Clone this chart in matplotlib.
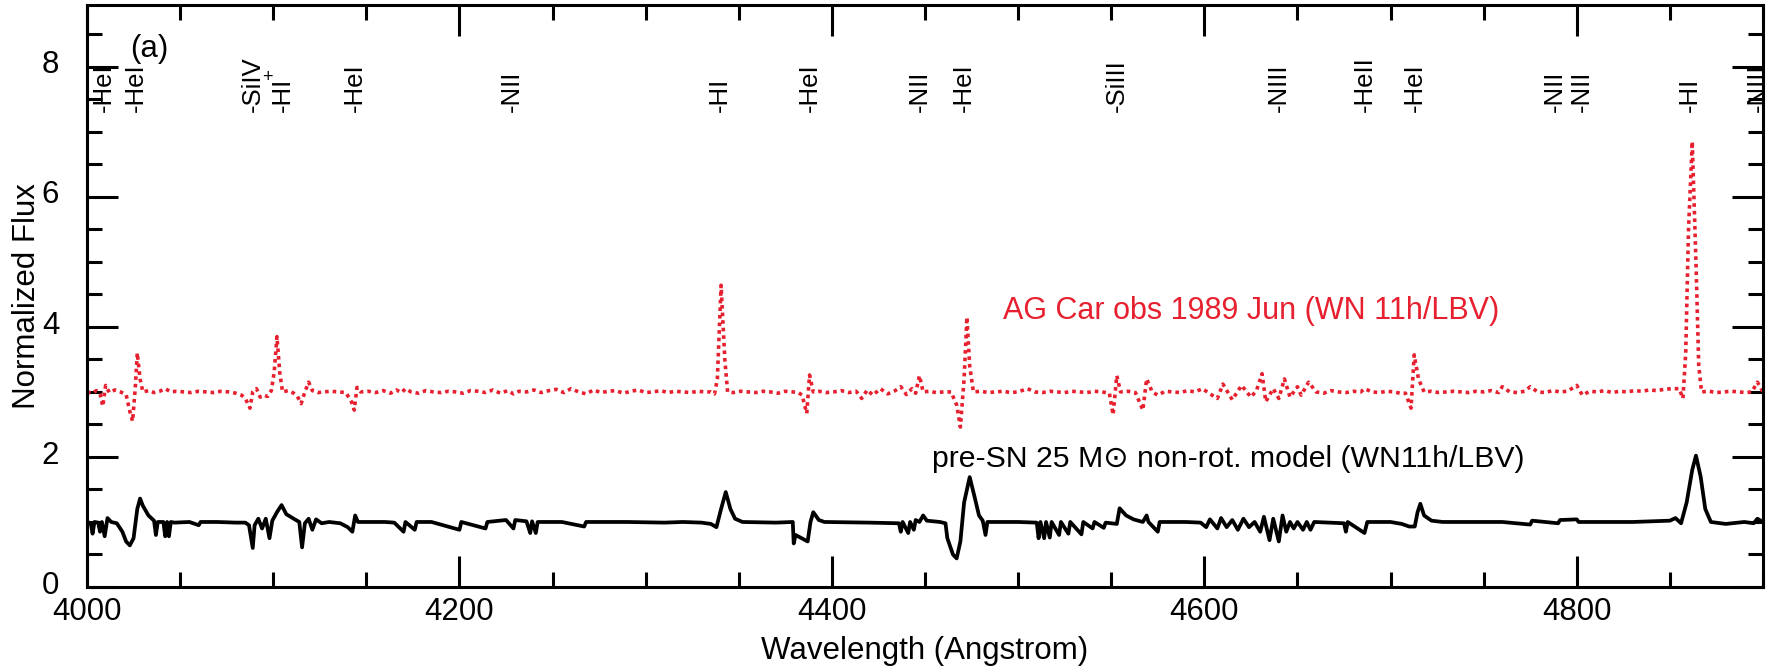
import matplotlib
matplotlib.use("Agg")
import matplotlib.pyplot as plt
from matplotlib.ticker import MultipleLocator
from matplotlib.transforms import ScaledTranslation

plt.rcParams['font.family'] = ['Liberation Sans', 'DejaVu Sans']

# Observed AG Car spectrum (offset to 3.0)
obs_wave = [4000, 4003, 4005, 4007, 4008.5, 4010, 4012, 4015, 4018, 4021, 4023, 4024.5,
            4026, 4027, 4028.5, 4030, 4033, 4036, 4039, 4042, 4045, 4048, 4052, 4056,
            4060, 4064, 4068, 4072, 4076, 4080, 4083, 4085, 4087.5, 4089, 4091, 4093,
            4095, 4097, 4099, 4100.5, 4102, 4103.5, 4105, 4108, 4111, 4113, 4115, 4117,
            4119, 4121, 4124, 4127, 4131, 4135, 4139, 4142, 4143.5, 4145, 4147, 4151,
            4155, 4159, 4163, 4166, 4169, 4171, 4174, 4178, 4182, 4186, 4190, 4194,
            4198, 4202, 4206, 4210, 4214, 4218, 4222, 4226, 4229, 4232, 4236, 4240,
            4244, 4248, 4252, 4256, 4260, 4264, 4268, 4272, 4276, 4280, 4284, 4288,
            4292, 4296, 4300, 4304, 4308, 4312, 4316, 4320, 4324, 4328, 4332, 4335,
            4337, 4338.5, 4340.5, 4342.5, 4344, 4347, 4351, 4355, 4359, 4363, 4367,
            4371, 4375, 4379, 4382, 4384, 4386.5, 4388, 4390, 4393, 4397, 4401, 4405,
            4409, 4413, 4416, 4419, 4422, 4426, 4430, 4434, 4437, 4440, 4443, 4445,
            4447, 4449, 4452, 4456, 4460, 4464, 4467, 4469, 4471, 4472.5, 4474, 4476,
            4480, 4484, 4488, 4492, 4496, 4500, 4505, 4509, 4513, 4517, 4521, 4525,
            4529, 4533, 4537, 4541, 4545, 4549, 4551, 4553, 4555, 4559, 4563, 4567,
            4569, 4572, 4575, 4579, 4583, 4587, 4591, 4595, 4599, 4603, 4607, 4610,
            4615, 4620, 4625, 4628, 4631, 4633, 4637, 4640, 4643, 4646, 4650, 4652,
            4656, 4660, 4664, 4668, 4672, 4676, 4680, 4684, 4686, 4690, 4694, 4698,
            4702, 4705, 4708, 4711, 4712.7, 4715, 4718, 4722, 4726, 4730, 4734, 4738,
            4742, 4746, 4750, 4754, 4758, 4760, 4764, 4768, 4772, 4775, 4779, 4783,
            4787, 4791, 4795, 4800, 4803, 4807, 4811, 4815, 4819, 4823, 4827, 4831,
            4835, 4839, 4843, 4847, 4851, 4855, 4857, 4858.5, 4860, 4862, 4864,
            4865.5, 4867, 4871, 4875, 4879, 4883, 4887, 4891, 4894, 4897, 4900]
obs_flux = [3.00, 2.98, 3.02, 2.97, 2.78, 3.10, 2.99, 3.03, 3.00, 2.96, 2.70, 2.55,
            3.10, 3.60, 3.20, 3.00, 3.02, 2.99, 3.01, 3.05, 3.00, 3.01, 3.00, 2.99,
            3.01, 3.00, 2.99, 3.01, 3.00, 2.98, 2.95, 2.90, 2.75, 3.00, 3.05, 2.92,
            2.95, 2.93, 3.02, 3.30, 3.85, 3.30, 3.00, 3.02, 2.98, 2.93, 2.82, 3.00,
            3.15, 3.02, 2.99, 3.00, 3.01, 3.00, 2.99, 2.85, 2.72, 3.07, 3.00, 3.01,
            2.99, 3.02, 2.98, 3.03, 2.99, 3.05, 3.00, 2.98, 3.02, 3.00, 2.99, 3.01,
            3.00, 2.98, 3.02, 3.01, 2.99, 3.03, 2.98, 3.02, 2.97, 3.01, 3.00, 3.03,
            2.99, 3.02, 3.04, 2.99, 3.05, 3.00, 2.97, 3.03, 2.99, 3.01, 3.02, 2.98,
            3.01, 3.03, 2.99, 3.00, 3.02, 2.99, 3.01, 3.00, 2.99, 3.01, 3.00, 3.00,
            2.97, 3.20, 4.64, 3.50, 3.00, 2.99, 3.01, 3.00, 2.99, 3.01, 3.00,
            2.98, 3.01, 3.00, 2.99, 2.95, 2.67, 3.26, 3.00, 3.01, 2.99, 3.00, 3.02,
            2.99, 3.01, 2.90, 3.03, 2.95, 3.05, 2.97, 3.02, 3.08, 2.96, 3.05, 2.98,
            3.25, 3.00, 3.01, 2.99, 3.00, 3.00, 2.80, 2.46, 3.20, 4.15, 3.40, 3.00,
            3.01, 2.99, 3.00, 3.01, 2.99, 3.00, 3.05, 3.00, 2.99, 3.01, 3.00, 2.99,
            3.01, 3.00, 2.99, 3.01, 3.00, 2.98, 2.65, 3.25, 3.00, 3.01, 2.99, 2.72,
            3.20, 3.00, 2.95, 3.01, 3.00, 2.99, 3.02, 3.00, 3.05, 2.97, 2.90, 3.12,
            2.88, 3.10, 2.92, 3.02, 3.28, 2.85, 3.05, 2.90, 3.20, 2.92, 3.08, 2.95,
            3.15, 3.00, 2.98, 3.02, 3.00, 2.99, 3.01, 3.00, 3.05, 3.00, 2.99, 3.01,
            3.00, 2.98, 2.98, 2.75, 3.57, 3.20, 3.00, 3.01, 2.99, 3.00, 3.01, 3.00,
            2.99, 3.01, 3.00, 3.02, 2.99, 3.08, 3.00, 2.99, 3.01, 3.08, 3.00, 2.99,
            3.02, 3.00, 3.01, 3.10, 2.95, 3.01, 3.00, 3.02, 2.99, 3.01, 3.00, 3.02,
            3.01, 3.03, 3.02, 3.04, 3.05, 3.05, 2.90, 3.60, 5.50, 6.85, 5.00,
            3.40, 3.00, 3.01, 2.99, 3.00, 3.01, 3.00, 2.99, 3.00, 3.15, 3.00]

# Pre-SN 25 Msun non-rotating model spectrum
mod_wave = [4000, 4002, 4003, 4004, 4006, 4007, 4008, 4009.5, 4011, 4013, 4016, 4019,
            4021, 4023, 4025, 4027, 4028.5, 4030, 4033, 4036, 4037, 4038, 4041, 4042,
            4043, 4044, 4045, 4047, 4055, 4060, 4061, 4070, 4080, 4085, 4087, 4089,
            4090, 4092, 4094, 4096, 4098, 4099.5, 4102, 4104.5, 4107, 4111, 4114,
            4115.5, 4117, 4119, 4121, 4123, 4126, 4130, 4136, 4140, 4142.5, 4144,
            4145.5, 4160, 4165, 4170, 4171, 4176, 4177, 4185, 4200, 4201, 4214, 4215,
            4225, 4229, 4230, 4236, 4238, 4239, 4241, 4242, 4255, 4267, 4268, 4290,
            4310, 4320, 4330, 4335, 4338, 4340.5, 4343, 4345.5, 4348, 4352, 4370,
            4379, 4379.5, 4380.5, 4387, 4388.5, 4390, 4393, 4396, 4420, 4436, 4437,
            4438, 4441, 4442, 4444, 4445, 4447, 4449, 4451, 4458, 4461, 4462, 4465,
            4467, 4469, 4471, 4474, 4476.5, 4479, 4481, 4482.5, 4483.5, 4500, 4510,
            4511, 4512, 4514, 4515, 4517, 4518, 4522, 4523, 4527, 4528, 4534, 4535,
            4540, 4541, 4546, 4547, 4553, 4554.5, 4558, 4562, 4567, 4569, 4570, 4575,
            4576, 4590, 4598, 4601, 4603, 4607, 4609, 4612, 4615, 4618, 4621, 4624,
            4627, 4630, 4632, 4635, 4637, 4640, 4642, 4644, 4646, 4648, 4650, 4653,
            4655, 4657, 4659, 4675, 4676, 4677, 4686, 4687.5, 4700, 4706, 4710, 4713,
            4714.5, 4716, 4718, 4722, 4728, 4760, 4775, 4776, 4790, 4791, 4800, 4801,
            4830, 4850, 4853, 4856, 4859, 4862, 4864, 4866.5, 4869, 4872, 4880, 4890,
            4895, 4897, 4900]
mod_flux = [1.00, 0.98, 0.82, 1.00, 0.99, 0.85, 1.00, 0.78, 1.06, 1.00, 0.98, 0.85,
            0.70, 0.64, 0.75, 1.20, 1.36, 1.25, 1.10, 1.02, 0.80, 1.00, 1.00, 0.78,
            1.00, 0.78, 1.00, 0.99, 1.00, 0.95, 1.00, 1.00, 0.99, 0.99, 0.95, 0.60,
            0.95, 1.05, 0.90, 1.05, 0.75, 1.02, 1.15, 1.26, 1.12, 1.05, 1.00,
            0.61, 0.98, 1.05, 0.88, 1.04, 0.98, 1.00, 0.98, 0.92, 0.85, 1.10,
            1.00, 1.00, 0.99, 0.85, 1.00, 0.88, 1.00, 1.00, 0.88, 1.00, 0.90, 1.00,
            1.03, 0.90, 1.03, 1.01, 0.83, 1.01, 0.83, 1.00, 1.00, 0.93, 1.00, 1.00,
            0.99, 1.00, 0.99, 0.97, 0.92, 1.20, 1.46, 1.20, 1.05, 1.00, 0.99,
            1.00, 0.67, 0.80, 0.70, 1.00, 1.15, 1.03, 1.00, 0.99, 0.98, 0.85,
            1.00, 0.83, 1.00, 0.88, 1.03, 1.00, 1.10, 1.02, 1.00, 0.98, 0.75, 0.50,
            0.44, 0.70, 1.30, 1.69, 1.40, 1.10, 1.02, 0.80, 1.00, 1.00, 0.99,
            0.75, 1.00, 0.75, 1.00, 0.76, 1.00, 0.80, 1.00, 0.82, 1.00, 0.81, 1.00,
            0.90, 1.00, 0.91, 0.99, 0.97, 1.21, 1.10, 1.04, 1.00, 1.10, 1.00, 0.85,
            1.00, 1.00, 0.99, 0.92, 1.04, 0.90, 1.06, 0.92, 1.03, 0.88, 1.05, 0.92,
            1.00, 0.85, 1.08, 0.72, 1.05, 0.70, 1.10, 0.85, 1.00, 0.90, 1.00, 0.88,
            1.00, 0.88, 1.00, 0.98, 0.85, 1.00, 0.83, 1.00, 1.00, 0.97, 0.93, 0.93,
            1.15, 1.28, 1.10, 1.02, 1.00, 1.00, 0.96, 1.02, 0.98, 1.03, 1.04, 1.00,
            1.00, 1.02, 1.06, 0.98, 1.30, 1.80, 2.02, 1.70, 1.20, 1.00, 0.97, 1.00,
            0.98, 1.05, 1.00]

# Line identifications (label positions in Angstrom)
line_wave = [4009, 4026, 4089, 4105, 4144, 4228, 4340, 4388, 4447, 4471, 4553,
             4640, 4686, 4713, 4788, 4803, 4861, 4897]
line_name = ['HeI', 'HeI', 'SiIV', 'HI', 'HeI', 'NII', 'HI', 'HeI', 'NII', 'HeI',
             'SiIII', 'NIII', 'HeII', 'HeI', 'NII', 'NII', 'HI', 'NIII']

RED = '#e6202e'
FS = 22.5

fig = plt.figure(figsize=(17.71, 6.72), dpi=100)
ax = fig.add_axes([87 / 1771, 1 - 587 / 672, (1763 - 87) / 1771, (587 - 5) / 672])

ax.plot(obs_wave, obs_flux, color=RED, lw=2.6, linestyle=(0, (1.0, 1.1)))
ax.plot(mod_wave, mod_flux, color='black', lw=2.7)

ax.set_xlim(4000, 4900)
ax.set_ylim(0, 8.95)

for w, n in zip(line_wave, line_name):
    ax.text(w, 7.30, '-' + n, rotation=90, ha='center', va='bottom',
            fontsize=18.5, clip_on=False)
ax.text(4096.8, 7.84, '+', ha='center', va='center', fontsize=13)

ax.text(4023, 8.27, '(a)', fontsize=FS, va='center', ha='left')
ax.text(4492, 4.25, 'AG Car obs 1989 Jun (WN 11h/LBV)', color=RED, fontsize=22,
        va='center', ha='left')
ax.text(4454, 1.97, 'pre-SN 25 M\u2299 non-rot. model (WN11h/LBV)', color='black',
        fontsize=21.8, va='center', ha='left')

ax.set_xlabel('Wavelength (Angstrom)', fontsize=FS, labelpad=7)
ax.set_ylabel('Normalized Flux', fontsize=FS, labelpad=0)

ax.xaxis.set_major_locator(MultipleLocator(200))
ax.xaxis.set_minor_locator(MultipleLocator(50))
ax.yaxis.set_major_locator(MultipleLocator(2))
ax.yaxis.set_minor_locator(MultipleLocator(0.5))
ax.tick_params(which='both', direction='in', top=True, right=True, width=2.2,
               labelsize=FS)
ax.tick_params(which='major', length=22)
ax.tick_params(which='minor', length=11)
ax.tick_params(axis='x', which='major', pad=7)
ax.tick_params(axis='y', which='major', pad=20)
for s in ax.spines.values():
    s.set_linewidth(2.2)

# y tick labels sit slightly above their ticks
lift = ScaledTranslation(0, 3.5 / 72, fig.dpi_scale_trans)
for tick in ax.yaxis.get_major_ticks():
    tick.label1.set_transform(tick.label1.get_transform() + lift)

fig.savefig('out.png', dpi=100)
